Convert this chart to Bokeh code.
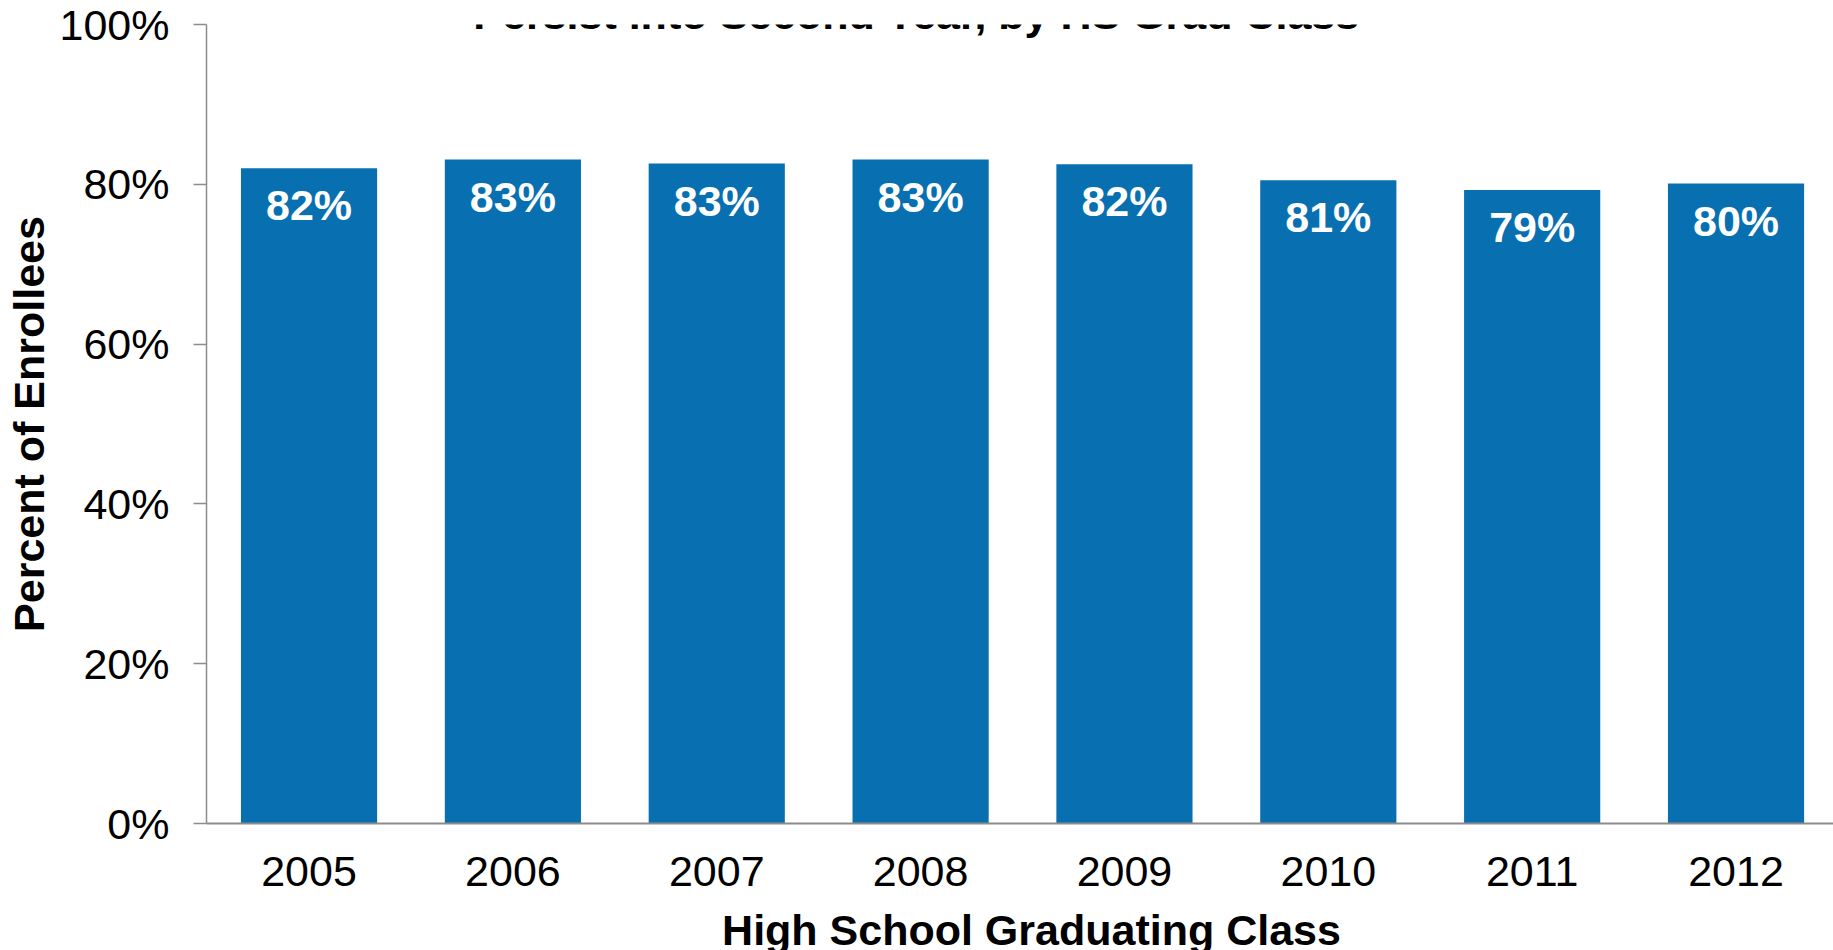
from bokeh.plotting import figure
from bokeh.models import FixedTicker, PrintfTickFormatter, Range1d, Label, ColumnDataSource
from bokeh.core.properties import value
from bokeh.embed import file_html
from bokeh.resources import INLINE

# ---- data ----
years = ["2005", "2006", "2007", "2008", "2009", "2010", "2011", "2012"]
persist_pct = [82.0, 83.1, 82.6, 83.1, 82.5, 80.5, 79.3, 80.1]
bar_labels = ["82%", "83%", "83%", "83%", "82%", "81%", "79%", "80%"]
y_ticks = [0, 20, 40, 60, 80, 100]
title_text = "Persist into Second Year, by HS Grad Class"
x_title = "High School Graduating Class"
y_title = "Percent of Enrollees"

FONT = "Liberation Sans"
FS = "43px"
BAR_COLOR = "#0870B0"
AXIS_COLOR = "#8C8C8C"

xs = list(range(len(years)))
src = ColumnDataSource(dict(x=xs, top=persist_pct, lab=bar_labels))

p = figure(width=1856, height=957, output_backend="svg", toolbar_location=None,
           x_range=Range1d(-0.503, 7.591), y_range=Range1d(0, 100),
           min_border_left=206, min_border_right=0, min_border_top=24, min_border_bottom=134)
p.outline_line_color = None
p.xgrid.visible = False
p.ygrid.visible = False
p.background_fill_color = "white"
p.border_fill_color = None

p.vbar(x="x", top="top", bottom=0, width=0.668, source=src,
       fill_color=BAR_COLOR, line_color=None)

p.text(x="x", y="top", text="lab", source=src, y_offset=37,
       text_align="center", text_baseline="middle", text_color="white",
       text_font=value(FONT), text_font_style="bold", text_font_size=FS)

# y axis
ya = p.yaxis[0]
ya.ticker = FixedTicker(ticks=y_ticks)
ya.formatter = PrintfTickFormatter(format="%d%%")
ya.minor_tick_line_color = None
ya.major_tick_out = 13
ya.major_tick_in = 0
ya.axis_line_color = AXIS_COLOR
ya.axis_line_width = 1.5
ya.major_tick_line_color = AXIS_COLOR
ya.major_tick_line_width = 1.5
ya.major_label_text_font = FONT
ya.major_label_text_font_size = FS
ya.major_label_text_color = "black"
ya.major_label_standoff = 24
ya.axis_label = y_title
ya.axis_label_text_font = FONT
ya.axis_label_text_font_size = FS
ya.axis_label_text_font_style = "bold"
ya.axis_label_text_color = "black"
ya.axis_label_standoff = 4

# x axis
xa = p.xaxis[0]
xa.ticker = FixedTicker(ticks=xs)
xa.major_label_overrides = {i: y for i, y in zip(xs, years)}
xa.minor_tick_line_color = None
xa.major_tick_line_color = None
xa.major_tick_out = 0
xa.major_tick_in = 0
xa.axis_line_color = AXIS_COLOR
xa.axis_line_width = 2
xa.major_label_text_font = FONT
xa.major_label_text_font_size = FS
xa.major_label_text_color = "black"
xa.major_label_standoff = 33
xa.axis_label = x_title
xa.axis_label_text_font = FONT
xa.axis_label_text_font_size = FS
xa.axis_label_text_font_style = "bold"
xa.axis_label_text_color = "black"
xa.axis_label_standoff = 17

# title (cut off at top as in reference)
title = Label(x=(len(years) - 1) / 2 - 0.5, y=100, y_offset=11, x_offset=-4, text=title_text,
              text_align="center", text_baseline="alphabetic",
              text_font=FONT, text_font_style="bold", text_font_size=FS,
              text_color="black")
p.add_layout(title)

open("out.html", "w").write(file_html(p, INLINE))
